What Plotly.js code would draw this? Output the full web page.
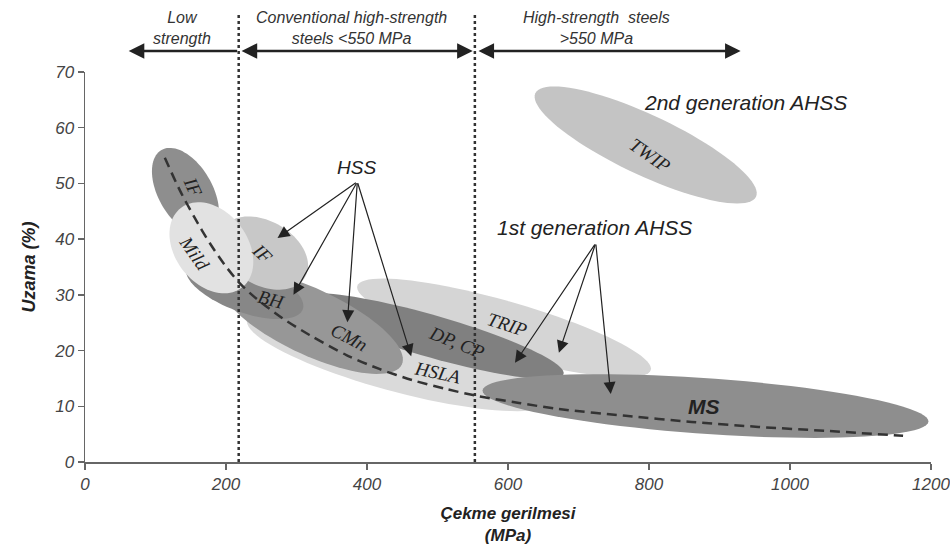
<!DOCTYPE html>
<html><head><meta charset="utf-8">
<script src="https://cdn.plot.ly/plotly-3.0.1.min.js"></script>
<style>html,body{margin:0;padding:0;background:#fff}</style>
</head><body><div id="chart" style="width:950px;height:551px"></div>
<script>
// ---------- DATA ----------
// Steel families, drawn bottom to top
const steelNames   = ['HSLA','TRIP','DP, CP','CMn','BH','IF (HSS)','IF','Mild','MS','TWIP'];
const steelLabels  = ['HSLA','TRIP','DP, CP','CMn','BH','IF','IF','Mild','MS','TWIP'];
// major-axis end points of each band (tensile strength MPa, elongation %)
const strengthStart = [229.8, 386.2, 303.2, 193.0, 143.9, 194.4, 108.5, 136.0, 563.9, 638.8];
const elongStart    = [25.6, 31.6, 29.4, 32.7, 35.0, 41.8, 56.0, 45.6, 12.85, 66.2];
const strengthEnd   = [661.7, 802.5, 678.8, 449.4, 308.9, 312.2, 176.5, 222.5, 1196.4, 951.8];
const elongEnd      = [11.0, 16.5, 15.8, 17.5, 27.4, 33.2, 41.0, 31.3, 7.25, 47.6];
const elongHalfWidth= [5.74, 4.85, 3.77, 5.9, 4.3, 5.74, 4.85, 6.5, 5.0, 5.4];
// label anchor of each band
const labelStrength = [499.5, 598.6, 527.8, 375, 264.6, 251.9, 152.8, 155.7, 877.3, 802.3];
const labelElong    = [16.0, 24.6, 21.5, 22.3, 29.1, 37.5, 49.4, 37.5, 9.9, 55.1];

// trend curve
const trendStrength = [113.2,134.4,155.7,176.9,198.1,219.3,243.4,280.2,318.4,370.8,417.5,464.2,512.3,559.0,615.6,672.2,767.0,860.4,955.2,1050.0,1160.4];
const trendElong    = [54.6,48.8,43.8,39.3,35.4,32.1,29.3,25.8,22.8,19.2,16.7,14.7,13.1,11.8,10.6,9.5,8.3,7.2,6.3,5.6,4.7];

// class boundaries (MPa)
const boundaryStrength = [218, 553];
const xTicks = [0,200,400,600,800,1000,1200];
const yTicks = [0,10,20,30,40,50,60,70];

// ---------- STYLE ----------
const bandColors = ['#dadada','#d5d5d5','#808080','#979797','#878787','#c8c8c8','#8e8e8e','#e2e2e2','#8e8e8e','#c4c4c4'];
const labelAngles = [12,18,22,28,15,45,65,55,0,35];
const M = {l:85, r:19, t:72, b:89};
const W = 950 - M.l - M.r, H = 551 - M.t - M.b;
const kx = W/1200, ky = H/70;

function ellipsePath(i){
  const X1 = strengthStart[i]*kx, Y1 = elongStart[i]*ky, X2 = strengthEnd[i]*kx, Y2 = elongEnd[i]*ky;
  const cx=(X1+X2)/2, cy=(Y1+Y2)/2, ux=(X2-X1)/2, uy=(Y2-Y1)/2;
  const a=Math.hypot(ux,uy), vx=-uy/a, vy=ux/a, b=elongHalfWidth[i]*ky;
  let d='';
  for(let k=0;k<=90;k++){
    const t=k/90*2*Math.PI;
    const X=cx+Math.cos(t)*ux+Math.sin(t)*b*vx;
    const Y=cy+Math.cos(t)*uy+Math.sin(t)*b*vy;
    d += (k?'L':'M')+(X/kx).toFixed(2)+','+(Y/ky).toFixed(2);
  }
  return d+'Z';
}

const shapes = [];
steelNames.forEach((n,i)=>{
  shapes.push({type:'path', xref:'x', yref:'y', path:ellipsePath(i), fillcolor:bandColors[i], line:{width:0}, layer:'below'});
});
boundaryStrength.forEach(v=>{
  shapes.push({type:'line', xref:'x', yref:'paper', x0:v, x1:v, y0:0, y1:1.151, line:{color:'#333', width:2.5, dash:'dot'}, layer:'above'});
});

const sans = 'Liberation Sans, Arial, sans-serif';
const serif = 'Liberation Serif, Times New Roman, serif';
const ann = [];
// headings
[[137,'Low<br>strength'],[378,'Conventional high-strength<br>steels &lt;550 MPa'],[726,'High-strength  steels<br>&gt;550 MPa']].forEach(h=>{
  ann.push({xref:'x', yref:'paper', x:h[0], y:1.112, yanchor:'middle', xanchor:'center', text:h[1], showarrow:false,
    font:{family:sans, size:16, style:'italic', color:'#333'}});
});
// top range arrows
[[62,218,'end'],[550,220,'end+start'],[930,556,'end+start']].forEach(a=>{
  ann.push({xref:'x', yref:'paper', x:a[0], y:1.054, axref:'x', ax:a[1], ayref:'pixel', ay:0, text:'', showarrow:true,
    arrowhead:2, arrowsize:1.3, arrowwidth:2.4, arrowcolor:'#222', arrowside:a[2], standoff:0, startstandoff:0});
});
// group texts
ann.push({xref:'x', yref:'y', x:385, y:52.8, text:'HSS', showarrow:false, font:{family:sans, size:19, style:'italic', color:'#222'}});
ann.push({xref:'x', yref:'y', x:723, y:42.1, text:'1st generation AHSS', showarrow:false, font:{family:sans, size:21, style:'italic', color:'#222'}});
ann.push({xref:'x', yref:'y', x:937, y:64.6, text:'2nd generation AHSS', showarrow:false, font:{family:sans, size:21, style:'italic', color:'#222'}});
// pointer arrows
const hssTail=[386.3,50.3], ahssTail=[724.5,39.3];
[[273.1,40.2],[295.7,30.0],[372.2,25.1],[462.7,19.0]].forEach(p=>{
  ann.push({xref:'x', yref:'y', x:p[0], y:p[1], axref:'x', ayref:'y', ax:hssTail[0], ay:hssTail[1], text:'', showarrow:true,
    arrowhead:2, arrowsize:2, arrowwidth:1.2, arrowcolor:'#222', standoff:0});
});
[[609.9,17.8],[672.2,19.6],[745.7,12.2]].forEach(p=>{
  ann.push({xref:'x', yref:'y', x:p[0], y:p[1], axref:'x', ayref:'y', ax:ahssTail[0], ay:ahssTail[1], text:'', showarrow:true,
    arrowhead:2, arrowsize:2, arrowwidth:1.2, arrowcolor:'#222', standoff:0});
});
// band labels
steelLabels.forEach((t,i)=>{
  const isMS = t==='MS';
  ann.push({xref:'x', yref:'y', x:labelStrength[i], y:labelElong[i], text:t, showarrow:false, textangle:labelAngles[i],
    font: isMS ? {family:sans, size:21, style:'italic', weight:'bold', color:'#222'} : {family:serif, size:19, style:'italic', color:'#222'}});
});

const traces = [{
  x: trendStrength, y: trendElong, type:'scatter', mode:'lines', line:{color:'#333', width:2.5, dash:'10px,6px', shape:'spline', smoothing:0.8},
  hoverinfo:'skip', showlegend:false
}];

const axisFont = {family:sans, size:17, style:'italic', color:'#444'};
const layout = {
  width:950, height:551, margin:M, paper_bgcolor:'#fff', plot_bgcolor:'#fff', showlegend:false,
  xaxis:{range:[0,1200], tickvals:xTicks, ticks:'outside', ticklen:6, tickcolor:'#666', tickwidth:1.5, ticklabeloverflow:'allow',
    showline:true, linecolor:'#666', linewidth:1.5, showgrid:false, zeroline:false, tickfont:axisFont,
    title:{text:'Çekme gerilmesi<br>(MPa)', standoff:14, font:{family:sans, size:17, style:'italic', weight:'bold', color:'#222'}}},
  yaxis:{range:[0,70], tickvals:yTicks, ticks:'outside', ticklen:6, tickcolor:'#666', tickwidth:1.5,
    showline:true, linecolor:'#666', linewidth:1.5, showgrid:false, zeroline:false, tickfont:axisFont,
    title:{text:'Uzama (%)', standoff:14, font:{family:sans, size:18, style:'italic', weight:'bold', color:'#222'}}},
  shapes: shapes, annotations: ann
};
Plotly.newPlot('chart', traces, layout, {displayModeBar:false, staticPlot:true});
</script></body></html>
